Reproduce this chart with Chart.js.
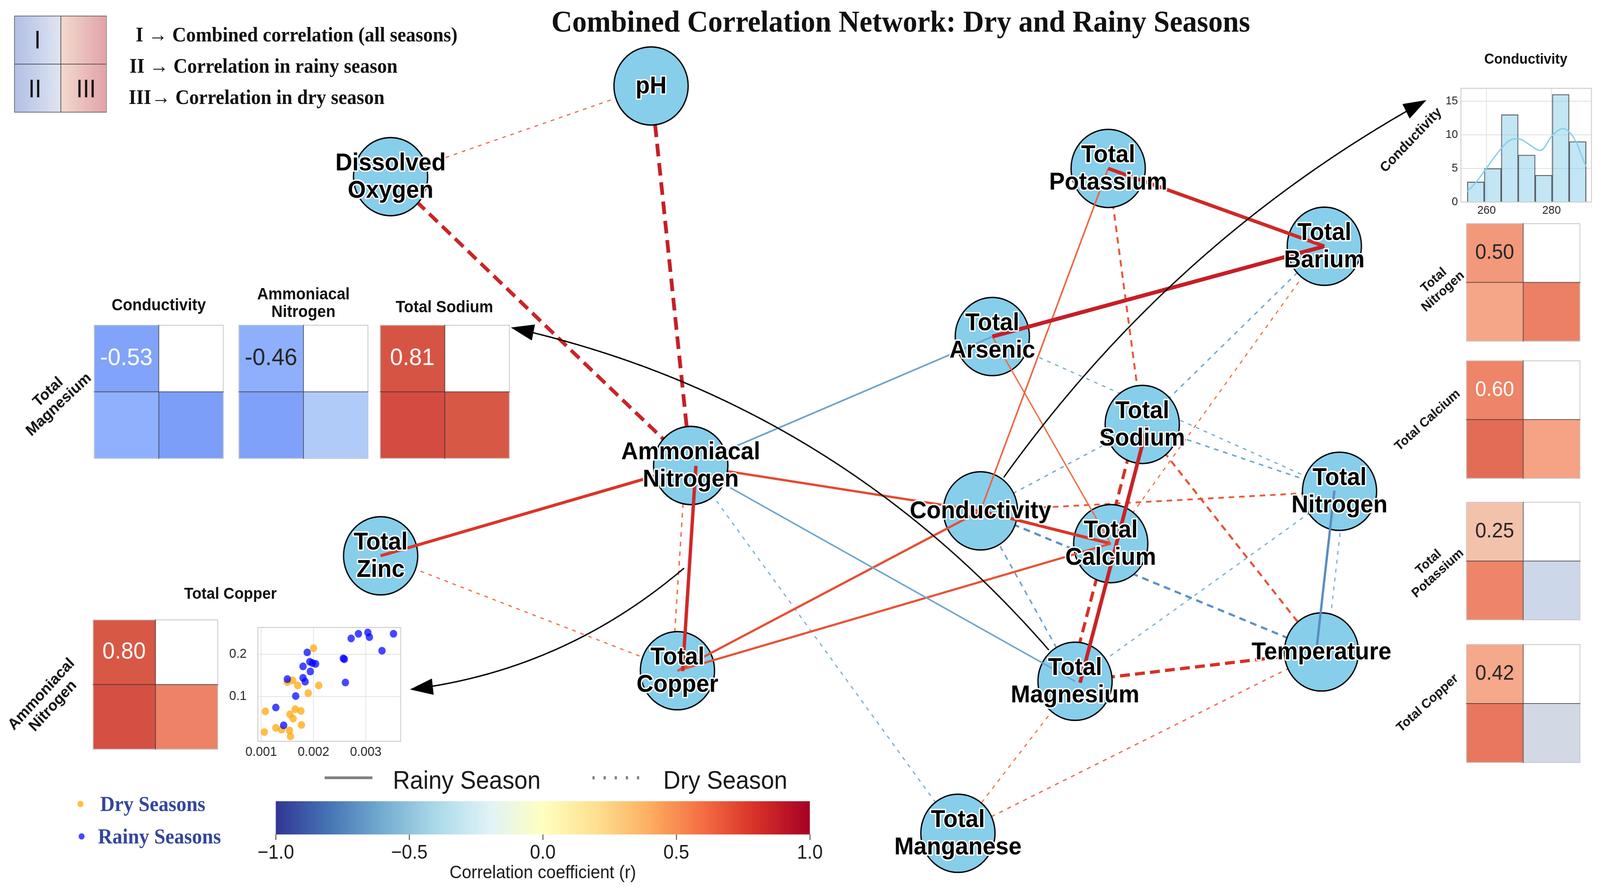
<!DOCTYPE html>
<html>
<head>
<meta charset="utf-8">
<title>Combined Correlation Network</title>
<script src="https://cdn.jsdelivr.net/npm/chart.js@4.4.1/dist/chart.umd.min.js"></script>
<style>
  html, body { margin: 0; padding: 0; background: #fff; overflow: hidden; }
  #wrap { position: relative; overflow: hidden; width: 4313px; height: 2272px; }
  #page { position: absolute; left: 0; top: 0; width: 4313px; height: 2272px; overflow: hidden; background: #fff;
          transform-origin: 0 0;
          font-family: 'Liberation Sans', Arial, Helvetica, sans-serif; color: #111; }
  .box { position: absolute; }
  .t { position: absolute; white-space: nowrap; transform: translate(-50%, -50%); text-align: center; line-height: 1.08; }
  .l { position: absolute; white-space: nowrap; transform: translateY(-50%); }
  .serif { font-family: 'Liberation Serif', 'Times New Roman', serif; }
  .b { font-weight: bold; }
</style>
</head>
<body>
<div id="wrap">
<div id="page">
  <!-- network (full page) -->
  <div class="box" style="left:0;top:0;width:4313px;height:2272px"><canvas id="net"></canvas></div>

  <!-- legend of the quadrants -->
  <div class="box" style="left:38px;top:40px;width:250px;height:248px;border:2px solid #6b6b6b;box-sizing:border-box;">
    <div style="position:absolute;left:0;top:0;width:124px;height:100%;background:linear-gradient(to right,#b2bfe5,#dfe5f1)"></div>
    <div style="position:absolute;left:124px;top:0;right:0;height:100%;background:linear-gradient(to right,#f3dacd,#e1a2aa)"></div>
    <div style="position:absolute;left:123px;top:0;width:2px;height:100%;background:#555"></div>
    <div style="position:absolute;left:0;top:121px;width:100%;height:2px;background:#555"></div>
  </div>
  <div class="t" style="left:101px;top:103px;font-size:64px;font-weight:300">I</div>
  <div class="t" style="left:94px;top:228px;font-size:64px;font-weight:300">II</div>
  <div class="t" style="left:232px;top:228px;font-size:64px;font-weight:300">III</div>
  <div class="l serif b" style="left:366px;top:88px;font-size:52px">I → Combined correlation (all seasons)</div>
  <div class="l serif b" style="left:349px;top:168px;font-size:52px">II → Correlation in rainy season</div>
  <div class="l serif b" style="left:347px;top:248px;font-size:52px">III→ Correlation in dry season</div>

  <div class="t serif b" style="left:2428px;top:55px;font-size:78px">Combined Correlation Network: Dry and Rainy Seasons</div>

  <!-- Total Magnesium insets -->
  <div class="t b" style="left:428px;top:780px;font-size:42px">Conductivity</div>
  <div class="t b" style="left:818px;top:774px;font-size:42px">Ammoniacal<br>Nitrogen</div>
  <div class="t b" style="left:1198px;top:785px;font-size:42px">Total Sodium</div>
  <div class="t b" style="left:143px;top:1018px;font-size:40px;transform:translate(-50%,-50%) rotate(-42deg)">Total<br>Magnesium</div>
  <div class="box" style="left:253px;top:831px;width:350px;height:343px"><canvas id="hmMg0"></canvas></div>
  <div class="box" style="left:643px;top:831px;width:350px;height:343px"><canvas id="hmMg1"></canvas></div>
  <div class="box" style="left:1024px;top:831px;width:350px;height:343px"><canvas id="hmMg2"></canvas></div>

  <!-- Ammoniacal Nitrogen vs Total Copper -->
  <div class="t b" style="left:621px;top:1518px;font-size:41px">Total Copper</div>
  <div class="t b" style="left:126px;top:1790px;font-size:40px;transform:translate(-50%,-50%) rotate(-46deg)">Ammoniacal<br>Nitrogen</div>
  <div class="box" style="left:250px;top:1585px;width:338px;height:333px"><canvas id="hmAmmCu"></canvas></div>
  <div class="box" style="left:600px;top:1555px;width:485px;height:392px"><canvas id="scat"></canvas></div>

  <!-- Conductivity insets -->
  <div class="t b" style="left:4113px;top:151px;font-size:37px">Conductivity</div>
  <div class="t b" style="left:3803px;top:358px;font-size:36px;transform:translate(-50%,-50%) rotate(-45deg)">Conductivity</div>
  <div class="box" style="left:3870px;top:200px;width:424px;height:362px"><canvas id="hist"></canvas></div>
  <div class="t b" style="left:3876px;top:730px;font-size:34px;transform:translate(-50%,-50%) rotate(-41deg)">Total<br>Nitrogen</div>
  <div class="t b" style="left:3847px;top:1074px;font-size:34px;transform:translate(-50%,-50%) rotate(-41deg)">Total Calcium</div>
  <div class="t b" style="left:3862px;top:1451px;font-size:34px;transform:translate(-50%,-50%) rotate(-41deg)">Total<br>Potassium</div>
  <div class="t b" style="left:3847px;top:1798px;font-size:34px;transform:translate(-50%,-50%) rotate(-41deg)">Total Copper</div>
  <div class="box" style="left:3952px;top:571px;width:308px;height:303px"><canvas id="hmCond0"></canvas></div>
  <div class="box" style="left:3952px;top:922px;width:308px;height:303px"><canvas id="hmCond1"></canvas></div>
  <div class="box" style="left:3952px;top:1284px;width:308px;height:303px"><canvas id="hmCond2"></canvas></div>
  <div class="box" style="left:3952px;top:1648px;width:308px;height:304px"><canvas id="hmCond3"></canvas></div>

  <!-- line style legend -->
  <svg class="box" style="left:0;top:1960px" width="1800" height="60">
    <line x1="875" y1="30" x2="1004" y2="30" stroke="#808080" stroke-width="7"/>
    <line x1="1597" y1="30" x2="1740" y2="30" stroke="#808080" stroke-width="8" stroke-dasharray="6 24"/>
  </svg>
  <div class="l" style="left:1059px;top:1996px;font-size:64px;color:#1a1a1a">Rainy Season</div>
  <div class="l" style="left:1788px;top:1996px;font-size:64px;color:#1a1a1a">Dry Season</div>

  <!-- season dots legend -->
  <svg class="box" style="left:200px;top:2040px" width="40" height="120">
    <circle cx="17" cy="17" r="8" fill="#ffbe3c"/>
    <circle cx="20" cy="100" r="8" fill="#4646ff"/>
  </svg>
  <div class="l serif b" style="left:270px;top:2057px;font-size:54px;color:#34469e">Dry Seasons</div>
  <div class="l serif b" style="left:264px;top:2140px;font-size:54px;color:#34469e">Rainy Seasons</div>

  <!-- colour bar -->
  <div class="box" style="left:690px;top:2040px;width:1545px;height:232px"><canvas id="cbar"></canvas></div>
</div>
</div>

<script>
// fit the 4313 x 2272 layout into the viewport
const page = document.getElementById('page');
const wrap = document.getElementById('wrap');
const fitX = window.innerWidth / 4313;
const fitY = window.innerHeight / 2272;
wrap.style.width = window.innerWidth + 'px';
wrap.style.height = window.innerHeight + 'px';
if (Math.abs(fitX - 1) > 0.002 || Math.abs(fitY - 1) > 0.002) page.style.transform = `scale(${fitX}, ${fitY})`;

// ---------------- network data ----------------
const nodeNames = ["pH", "Dissolved Oxygen", "Ammoniacal Nitrogen", "Total Zinc", "Total Copper",
  "Total Potassium", "Total Barium", "Total Arsenic", "Total Sodium", "Conductivity",
  "Total Calcium", "Total Nitrogen", "Temperature", "Total Magnesium", "Total Manganese"];
// layout coordinates (0-100 on both axes)
const nodeX = [40.69, 24.41, 43.17, 23.79, 42.34, 69.26, 82.77, 62.02, 71.39, 61.28, 69.42, 83.72, 82.59, 67.19, 59.87];
const nodeY = [90.32, 80.11, 47.58, 37.41, 24.47, 81.03, 72.27, 62.10, 52.20, 42.47, 38.78, 44.67, 26.58, 23.28, 6.16];

// [source, target, r]
const rainyEdges = [
  ["Ammoniacal Nitrogen", "Total Zinc", 0.78],
  ["Ammoniacal Nitrogen", "Total Copper", 0.83],
  ["Ammoniacal Nitrogen", "Total Arsenic", -0.64],
  ["Ammoniacal Nitrogen", "Conductivity", 0.71],
  ["Ammoniacal Nitrogen", "Total Magnesium", -0.63],
  ["Total Copper", "Conductivity", 0.70],
  ["Total Copper", "Total Calcium", 0.69],
  ["Total Arsenic", "Total Barium", 0.87],
  ["Total Potassium", "Total Barium", 0.83],
  ["Total Potassium", "Conductivity", 0.64],
  ["Total Arsenic", "Total Calcium", 0.62],
  ["Conductivity", "Total Calcium", 0.78],
  ["Total Sodium", "Total Magnesium", 0.86],
  ["Temperature", "Total Nitrogen", -0.72]
];
const dryEdges = [
  ["pH", "Dissolved Oxygen", 0.60],
  ["pH", "Ammoniacal Nitrogen", 0.87],
  ["Dissolved Oxygen", "Ammoniacal Nitrogen", 0.85],
  ["Ammoniacal Nitrogen", "Total Copper", 0.62],
  ["Ammoniacal Nitrogen", "Total Manganese", -0.60],
  ["Total Zinc", "Total Copper", 0.60],
  ["Total Potassium", "Total Sodium", 0.68],
  ["Total Arsenic", "Total Nitrogen", -0.60],
  ["Total Barium", "Total Sodium", -0.62],
  ["Total Barium", "Total Calcium", 0.60],
  ["Total Sodium", "Conductivity", -0.61],
  ["Total Sodium", "Total Nitrogen", -0.63],
  ["Total Sodium", "Temperature", 0.69],
  ["Total Sodium", "Total Magnesium", 0.80],
  ["Conductivity", "Temperature", -0.70],
  ["Conductivity", "Total Nitrogen", 0.66],
  ["Conductivity", "Total Magnesium", -0.64],
  ["Total Magnesium", "Temperature", 0.80],
  ["Total Magnesium", "Total Nitrogen", -0.60],
  ["Total Magnesium", "Total Manganese", 0.60],
  ["Temperature", "Total Manganese", 0.61],
  ["Temperature", "Total Nitrogen", -0.60]
];

// arrows from the network to the insets
const arrowFrom = ["Conductivity", "Total Magnesium", "Ammoniacal Nitrogen|Total Copper"];
const arrowToX = [89.15, 31.93, 25.62];
const arrowToY = [88.73, 63.12, 22.36];
const arrowBend = [0.12, -0.17, 0.145];

// ---------------- inset data ----------------
// cells: [combined (I), rainy (II), dry (III)]
const mgPartners = ["Conductivity", "Ammoniacal Nitrogen", "Total Sodium"];
const mgCombined = [-0.53, -0.46, 0.81];
const mgRainy    = [-0.45, -0.54, 0.83];
const mgDry      = [-0.56, -0.26, 0.80];

const condPartners = ["Total Nitrogen", "Total Calcium", "Total Potassium", "Total Copper"];
const condCombined = [0.50, 0.60, 0.25, 0.42];
const condRainy    = [0.43, 0.71, 0.60, 0.66];
const condDry      = [0.62, 0.45, -0.10, -0.06];

const ammCuCells = [0.80, 0.82, 0.61];

const condBinCenters = [256.67, 261.90, 267.13, 272.36, 277.59, 282.82, 288.05];
const condBinCounts  = [3, 5, 13, 7, 4, 16, 9];
const condKdeX = [254.1, 256.9, 259.3, 262.3, 264.6, 266.9, 269.0, 270.7, 273.0, 276.1, 277.6, 279.9, 282.2, 283.8, 285.7, 287.6, 289.1, 290.6];
const condKdeY = [1.6, 3.0, 4.6, 6.6, 8.0, 9.1, 9.4, 9.3, 8.6, 7.7, 8.0, 9.7, 10.7, 10.9, 10.3, 8.9, 7.1, 5.3];
const histCondTicks = [260, 280];
const histCountTicks = [0, 5, 10, 15];

const scRainyCopper = [0.00286, 0.00304, 0.00307, 0.00272, 0.00353, 0.00331, 0.00188, 0.00257, 0.00259, 0.00193, 0.00198,
                       0.00204, 0.00180, 0.00194, 0.00180, 0.00150, 0.00184, 0.00261, 0.00166, 0.00128, 0.00143];
const scRainyAmmonia = [0.248, 0.251, 0.240, 0.237, 0.248, 0.208, 0.204, 0.190, 0.188, 0.182, 0.179,
                        0.177, 0.171, 0.159, 0.144, 0.141, 0.135, 0.133, 0.101, 0.074, 0.032];
const scDryCopper = [0.00200, 0.00160, 0.00150, 0.00170, 0.00210, 0.00190, 0.00165, 0.00176, 0.00108,
                     0.00155, 0.00161, 0.00177, 0.00128, 0.00139, 0.00154, 0.00106, 0.00156];
const scDryAmmonia = [0.214, 0.138, 0.134, 0.126, 0.126, 0.108, 0.070, 0.066, 0.065,
                      0.058, 0.048, 0.033, 0.026, 0.022, 0.020, 0.016, 0.006];
const scCopperTicks = [0.001, 0.002, 0.003];
const scAmmoniaTicks = [0.1, 0.2];

const cbTicks = [-1, -0.5, 0, 0.5, 1];

// ---------------- helpers ----------------
const W = 4313, H = 2272;
const NODE_R = 100;
Chart.defaults.font.family = "'Liberation Sans', Arial, Helvetica, sans-serif";
Chart.defaults.color = '#262626';
Chart.defaults.layout.autoPadding = false;

const RDYLBU_R = ['#313695', '#4575b4', '#74add1', '#abd9e9', '#e0f3f8', '#ffffbf',
                  '#fee090', '#fdae61', '#f46d43', '#d73027', '#a50026'];
const COOLWARM = [[59,76,192],[86,115,224],[117,151,246],[152,185,255],[188,210,247],[221,220,220],
                  [242,201,180],[247,172,142],[238,132,104],[216,88,70],[180,4,38]];

function hexRgb(h) { return [1, 3, 5].map(i => parseInt(h.substr(i, 2), 16)); }
function lerpStops(stops, t) {
  t = Math.max(0, Math.min(1, t)) * (stops.length - 1);
  const i = Math.min(stops.length - 2, Math.floor(t)), f = t - i;
  const a = stops[i], b = stops[i + 1];
  return a.map((v, k) => Math.round(v + (b[k] - v) * f));
}
const RDYLBU_RGB = RDYLBU_R.map(hexRgb);
function rdylbu(r) { const c = lerpStops(RDYLBU_RGB, (r + 1) / 2); return `rgb(${c[0]},${c[1]},${c[2]})`; }
function coolwarmRgb(r) { return lerpStops(COOLWARM, (r + 1) / 2); }
function coolwarm(r) { const c = coolwarmRgb(r); return `rgb(${c[0]},${c[1]},${c[2]})`; }
function luminance(c) {
  const l = c.map(v => { v /= 255; return v <= 0.03928 ? v / 12.92 : Math.pow((v + 0.055) / 1.055, 2.4); });
  return 0.2126 * l[0] + 0.7152 * l[1] + 0.0722 * l[2];
}

function nodeXY(name) { const i = nodeNames.indexOf(name); return [nodeX[i], nodeY[i]]; }
function edgeWidth(r) { return Math.max(2.5, 26 * Math.abs(r) - 12.5); }
const pairKey = (a, b) => [a, b].sort().join('|');
const rainyKeys = new Set(rainyEdges.map(e => pairKey(e[0], e[1])));
const dryKeys = new Set(dryEdges.map(e => pairKey(e[0], e[1])));

function edgeDataset(e, dry) {
  const [a, b, r] = e;
  let A = nodeXY(a), B = nodeXY(b);
  // when both seasons link the same pair, draw them side by side
  if ((dry ? rainyKeys : dryKeys).has(pairKey(a, b))) {
    const ax = A[0] / 100 * W, ay = (1 - A[1] / 100) * H;
    const bx = B[0] / 100 * W, by = (1 - B[1] / 100) * H;
    const len = Math.hypot(bx - ax, by - ay);
    const s = dry ? 14 : -14;
    const sx = -(by - ay) / len * s, sy = (bx - ax) / len * s;
    A = [A[0] + sx / W * 100, A[1] - sy / H * 100];
    B = [B[0] + sx / W * 100, B[1] - sy / H * 100];
  }
  const w = edgeWidth(r);
  const hubCopper = pairKey(a, b) === pairKey("Ammoniacal Nitrogen", "Total Copper");
  return {
    type: 'line',
    data: [{ x: A[0], y: A[1] }, { x: B[0], y: B[1] }],
    borderColor: rdylbu(r),
    borderWidth: w,
    borderDash: dry ? [Math.max(3.2 * w, 8), Math.max(1.7 * w, 13)] : [],
    borderCapStyle: 'butt',
    pointRadius: 0,
    showLine: true,
    fill: false,
    clip: false,
    order: dry ? 10 : (hubCopper ? 1 : 3)
  };
}

const nodeDataset = {
  data: nodeX.map((x, i) => ({ x, y: nodeY[i] })),
  pointRadius: NODE_R,
  pointBackgroundColor: '#87ceeb',
  pointBorderColor: '#000',
  pointBorderWidth: 3.5,
  showLine: false,
  clip: false,
  order: 5
};
const hubIdx = nodeNames.indexOf("Ammoniacal Nitrogen");
const hubDataset = Object.assign({}, nodeDataset, {
  data: [{ x: nodeX[hubIdx], y: nodeY[hubIdx] }],
  order: 2
});

const netOverlay = {
  id: 'netOverlay',
  afterDatasetsDraw(chart) {
    const { ctx, scales: { x, y } } = chart;
    const px = p => ({ x: x.getPixelForValue(p[0]), y: y.getPixelForValue(p[1]) });
    ctx.save();
    // curved black arrows
    arrowFrom.forEach((src, k) => {
      let S, shrink = 0;
      if (src.includes('|')) {
        const [a, b] = src.split('|').map(nodeXY);
        S = px([(a[0] + b[0]) / 2, (a[1] + b[1]) / 2]);
      } else {
        S = px(nodeXY(src));
        shrink = NODE_R + 4;
      }
      const E = px([arrowToX[k], arrowToY[k]]);
      const dx = E.x - S.x, dy = E.y - S.y;
      const C = { x: (S.x + E.x) / 2 + arrowBend[k] * dy, y: (S.y + E.y) / 2 - arrowBend[k] * dx };
      const headLen = 62, headHalf = 21;
      ctx.beginPath();
      let started = false;
      for (let i = 0; i <= 400; i++) {
        const t = i / 400, u = 1 - t;
        const P = { x: u * u * S.x + 2 * u * t * C.x + t * t * E.x, y: u * u * S.y + 2 * u * t * C.y + t * t * E.y };
        if (Math.hypot(P.x - S.x, P.y - S.y) < shrink) continue;
        if (Math.hypot(P.x - E.x, P.y - E.y) < headLen * 0.85) break;
        if (!started) { ctx.moveTo(P.x, P.y); started = true; } else ctx.lineTo(P.x, P.y);
      }
      ctx.strokeStyle = '#000';
      ctx.lineWidth = 3.5;
      ctx.stroke();
      const dl = Math.hypot(E.x - C.x, E.y - C.y);
      const ux = (E.x - C.x) / dl, uy = (E.y - C.y) / dl;
      const bx = E.x - ux * headLen, by = E.y - uy * headLen;
      ctx.beginPath();
      ctx.moveTo(E.x, E.y);
      ctx.lineTo(bx - uy * headHalf, by + ux * headHalf);
      ctx.lineTo(bx + uy * headHalf, by - ux * headHalf);
      ctx.closePath();
      ctx.fillStyle = '#000';
      ctx.fill();
    });
    // node labels with white halo
    const meta = chart.getDatasetMeta(0);
    ctx.font = "bold 63px 'Liberation Sans', Arial, sans-serif";
    ctx.textAlign = 'center';
    ctx.textBaseline = 'middle';
    ctx.lineJoin = 'round';
    meta.data.forEach((el, i) => {
      const name = nodeNames[i];
      const lines = name.includes(' ') ? name.split(' ') : [name];
      const y0 = el.y - (lines.length - 1) * 35 + 2;
      lines.forEach((s, j) => {
        ctx.strokeStyle = '#fff';
        ctx.lineWidth = 7;
        ctx.strokeText(s, el.x, y0 + j * 70);
        ctx.fillStyle = '#000';
        ctx.fillText(s, el.x, y0 + j * 70);
      });
    });
    ctx.restore();
  }
};

new Chart(document.getElementById('net'), {
  type: 'scatter',
  data: {
    datasets: [nodeDataset, hubDataset]
      .concat(rainyEdges.map(e => edgeDataset(e, false)))
      .concat(dryEdges.map(e => edgeDataset(e, true)))
  },
  options: {
    animation: false, responsive: true, maintainAspectRatio: false, events: [],
    layout: { padding: 0, autoPadding: false },
    scales: {
      x: { type: 'linear', min: 0, max: 100, display: false },
      y: { type: 'linear', min: 0, max: 100, display: false }
    },
    plugins: { legend: { display: false }, tooltip: { enabled: false } }
  },
  plugins: [netOverlay]
});

// ---------------- 2x2 heatmaps ----------------
const cellPlugin = {
  id: 'cellText',
  afterDatasetsDraw(chart, args, opts) {
    const { ctx, chartArea: a } = chart;
    const bottom = chart.getDatasetMeta(0).data;
    const top = chart.getDatasetMeta(1).data;
    const xMid = (bottom[0].x + bottom[1].x) / 2;
    const yMid = chart.scales.y.getPixelForValue(1);
    ctx.save();
    ctx.strokeStyle = 'rgba(200,200,200,0.95)';
    ctx.lineWidth = 2.5;
    ctx.strokeRect(a.left + 1, a.top + 1, a.width - 2, a.height - 2);
    ctx.strokeStyle = 'rgba(45,45,45,0.75)';
    ctx.lineWidth = 2;
    ctx.beginPath();
    ctx.moveTo(xMid, a.top); ctx.lineTo(xMid, a.bottom);
    ctx.moveTo(a.left, yMid); ctx.lineTo(a.right, yMid);
    ctx.stroke();
    const el = top[0];
    const v = opts.value;
    ctx.fillStyle = luminance(coolwarmRgb(v)) > 0.408 ? '#262626' : '#fff';
    ctx.font = `${opts.size}px 'Liberation Sans', Arial, sans-serif`;
    ctx.textAlign = 'center';
    ctx.textBaseline = 'middle';
    ctx.fillText(v.toFixed(2), el.x, (el.y + el.base) / 2);
    ctx.restore();
  }
};

function heatmap(id, comb, rainy, dry, size) {
  return new Chart(document.getElementById(id), {
    type: 'bar',
    data: {
      labels: ['col1', 'col2'],
      datasets: [
        { data: [1, 1], backgroundColor: [coolwarm(rainy), coolwarm(dry)] },
        { data: [1, null], backgroundColor: [coolwarm(comb), 'rgba(0,0,0,0)'] }
      ]
    },
    options: {
      animation: false, responsive: true, maintainAspectRatio: false, events: [],
      layout: { padding: 0 },
      datasets: { bar: { barPercentage: 1, categoryPercentage: 1, borderWidth: 0 } },
      scales: {
        x: { display: false, stacked: true },
        y: { display: false, stacked: true, min: 0, max: 2 }
      },
      plugins: { legend: { display: false }, tooltip: { enabled: false }, cellText: { value: comb, size: size } }
    },
    plugins: [cellPlugin]
  });
}
mgPartners.forEach((p, i) => heatmap('hmMg' + i, mgCombined[i], mgRainy[i], mgDry[i], 62));
condPartners.forEach((p, i) => heatmap('hmCond' + i, condCombined[i], condRainy[i], condDry[i], 54));
heatmap('hmAmmCu', ammCuCells[0], ammCuCells[1], ammCuCells[2], 60);

// ---------------- frame helper ----------------
const framePlugin = {
  id: 'frame',
  beforeDatasetsDraw(chart) {
    const { ctx, chartArea: a } = chart;
    ctx.save();
    ctx.strokeStyle = '#cfcfcf';
    ctx.lineWidth = 2.5;
    ctx.strokeRect(a.left, a.top, a.width, a.height);
    ctx.restore();
  }
};

// ---------------- histogram ----------------
new Chart(document.getElementById('hist'), {
  type: 'bar',
  data: {
    datasets: [
      { type: 'line', data: condKdeX.map((x, i) => ({ x, y: condKdeY[i] })), borderColor: '#87ceeb',
        borderWidth: 3.5, pointRadius: 0, tension: 0.4, order: 0 },
      { type: 'bar', data: condBinCenters.map((x, i) => ({ x, y: condBinCounts[i] })),
        backgroundColor: 'rgba(135,206,235,0.5)', borderColor: 'rgba(60,60,60,0.85)', borderWidth: 2,
        borderSkipped: 'bottom', barPercentage: 1, categoryPercentage: 1, order: 1 }
    ]
  },
  options: {
    animation: false, responsive: true, maintainAspectRatio: false, events: [],
    layout: { padding: { top: 6, right: 4, left: 0, bottom: 0 } },
    scales: {
      x: { type: 'linear', min: 252.1, max: 292.3, offset: false, bounds: 'data',
           afterBuildTicks: s => { s.ticks = histCondTicks.map(v => ({ value: v })); },
           afterFit: s => { s.height = 45; },
           ticks: { font: { size: 30 }, padding: 4, callback: v => String(v) },
           grid: { color: '#dedede', lineWidth: 2, drawTicks: false, offset: false }, border: { display: false } },
      y: { min: 0, max: 16.9,
           afterBuildTicks: s => { s.ticks = histCountTicks.map(v => ({ value: v })); },
           afterFit: s => { s.width = 68; },
           ticks: { font: { size: 30 }, padding: 8, callback: v => String(v) },
           grid: { color: '#dedede', lineWidth: 2, drawTicks: false }, border: { display: false } }
    },
    plugins: { legend: { display: false }, tooltip: { enabled: false } }
  },
  plugins: [framePlugin]
});

// ---------------- scatter ----------------
new Chart(document.getElementById('scat'), {
  type: 'scatter',
  data: {
    datasets: [
      { label: 'Rainy Seasons', data: scRainyCopper.map((x, i) => ({ x, y: scRainyAmmonia[i] })),
        pointRadius: 10, pointBackgroundColor: 'rgba(0,0,255,0.72)', pointBorderWidth: 0 },
      { label: 'Dry Seasons', data: scDryCopper.map((x, i) => ({ x, y: scDryAmmonia[i] })),
        pointRadius: 10, pointBackgroundColor: 'rgba(255,165,0,0.72)', pointBorderWidth: 0 }
    ]
  },
  options: {
    animation: false, responsive: true, maintainAspectRatio: false, events: [],
    layout: { padding: { top: 9, right: 5, left: 0, bottom: 0 } },
    scales: {
      x: { type: 'linear', min: 0.000936, max: 0.003667,
           afterBuildTicks: s => { s.ticks = scCopperTicks.map(v => ({ value: v })); },
           afterFit: s => { s.height = 50; },
           ticks: { font: { size: 34 }, padding: 8, callback: v => v.toFixed(3) },
           grid: { color: '#e2e2e2', lineWidth: 2, drawTicks: false }, border: { display: false } },
      y: { type: 'linear', min: -0.0056, max: 0.2629,
           afterBuildTicks: s => { s.ticks = scAmmoniaTicks.map(v => ({ value: v })); },
           afterFit: s => { s.width = 95; },
           ticks: { font: { size: 34 }, padding: 30, callback: v => v.toFixed(1) },
           grid: { color: '#e2e2e2', lineWidth: 2, drawTicks: false }, border: { display: false } }
    },
    plugins: { legend: { display: false }, tooltip: { enabled: false } }
  },
  plugins: [framePlugin]
});

// ---------------- colour bar ----------------
const cbPlugin = {
  id: 'cbGradient',
  beforeDatasetsDraw(chart) {
    const { ctx, chartArea: a, scales: { x } } = chart;
    const x0 = x.getPixelForValue(-1), x1 = x.getPixelForValue(1);
    const g = ctx.createLinearGradient(x0, 0, x1, 0);
    RDYLBU_R.forEach((c, i) => g.addColorStop(i / (RDYLBU_R.length - 1), c));
    ctx.save();
    ctx.fillStyle = g;
    ctx.fillRect(a.left, a.top, a.width, a.height);
    ctx.restore();
  }
};
new Chart(document.getElementById('cbar'), {
  type: 'scatter',
  data: { datasets: [] },
  options: {
    animation: false, responsive: true, maintainAspectRatio: false, events: [],
    layout: { padding: { top: 10, left: 50, right: 52, bottom: 0 } },
    scales: {
      x: { type: 'linear', min: -1, max: 1,
           afterBuildTicks: s => { s.ticks = cbTicks.map(v => ({ value: v })); },
           afterFit: s => { s.height = 137; },
           ticks: { font: { size: 50 }, color: '#1a1a1a', padding: 4,
                    callback: v => (v < 0 ? '\u2212' : '') + Math.abs(v).toFixed(1) },
           grid: { drawOnChartArea: false, drawTicks: true, tickLength: 14, tickColor: '#222', tickWidth: 2 },
           border: { display: false },
           title: { display: true, text: 'Correlation coefficient (r)', font: { size: 46 }, color: '#1a1a1a',
                    padding: { top: 0, bottom: 10 } } },
      y: { display: false, min: 0, max: 1 }
    },
    plugins: { legend: { display: false }, tooltip: { enabled: false } }
  },
  plugins: [cbPlugin]
});
</script>
</body>
</html>
